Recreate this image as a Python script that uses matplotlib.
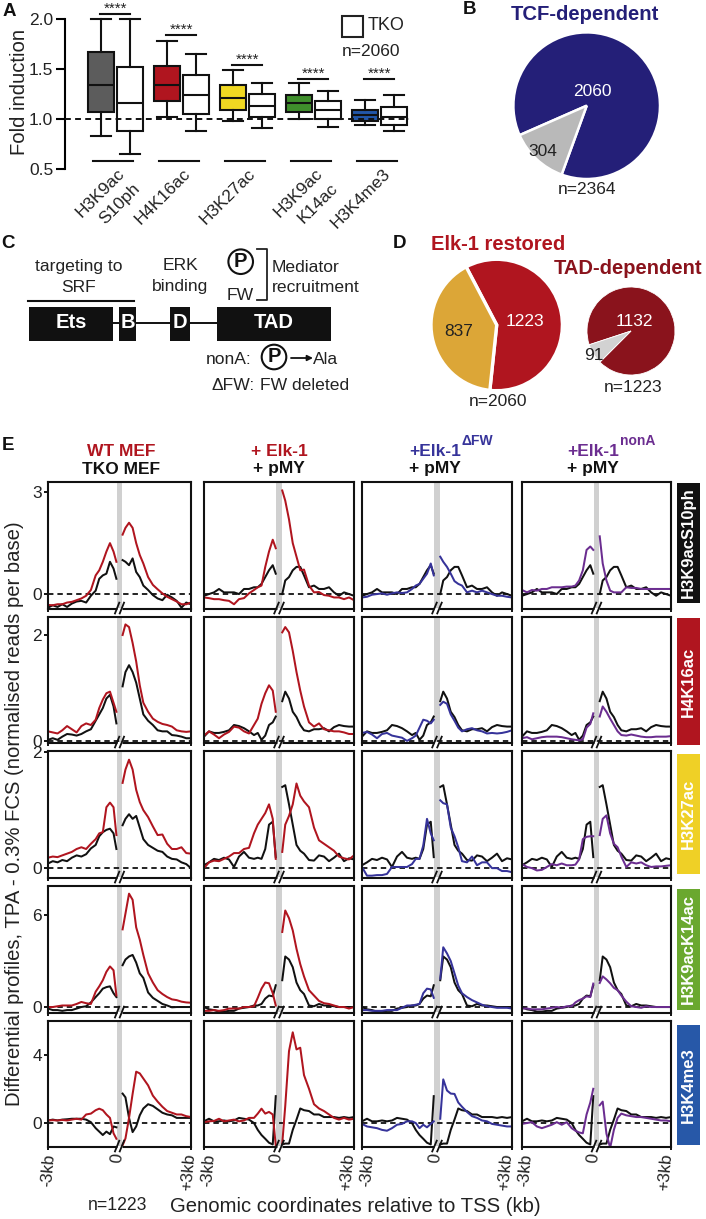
#!/usr/bin/env python
# coding: utf-8
import matplotlib
matplotlib.use('Agg')
import matplotlib.pyplot as plt
from matplotlib.patches import Rectangle, Circle

plt.rcParams['font.family'] = ['Liberation Sans', 'DejaVu Sans']

W, H = 706, 1219
TXT = '#222222'
RED = '#b0151f'
DARKRED = '#8a131c'
NAVY = '#241f78'
BLUE = '#36339a'
PURPLE = '#6b2d90'
GOLD = '#dca637'

# panel A
groups = ['H3K9ac S10ph', 'H4K16ac', 'H3K27ac', 'H3K9ac K14ac', 'H3K4me3']
box_colors = ['#5c5c5c', '#b0151f', '#f0d822', '#3f8f2c', '#2256a8']
# whislo, q1, med, q3, whishi
box_wt = [[0.83, 1.07, 1.34, 1.67, 2.0],
          [1.02, 1.18, 1.34, 1.53, 1.78],
          [0.98, 1.09, 1.21, 1.34, 1.49],
          [1.00, 1.07, 1.16, 1.24, 1.36],
          [0.945, 0.98, 1.04, 1.09, 1.19]]
box_tko = [[0.65, 0.88, 1.16, 1.525, 2.0],
           [0.88, 1.05, 1.24, 1.44, 1.65],
           [0.91, 1.02, 1.13, 1.25, 1.365],
           [0.92, 1.005, 1.09, 1.18, 1.28],
           [0.885, 0.945, 1.02, 1.12, 1.24]]
sig_y = [2.05, 1.84, 1.54, 1.40, 1.40]

# panels B and D
pie_b = [2060, 304]
pie_d1 = [1223, 837]
pie_d2 = [1132, 91]

# panel E, reads per base at X_LEFT + X_RIGHT
X_LEFT = [-3, -2.8, -2.6, -2.4, -2.2, -2, -1.8, -1.6, -1.4, -1.2, -1, -0.85, -0.7, -0.55, -0.4, -0.25, -0.13]
X_RIGHT = [0.13, 0.25, 0.4, 0.55, 0.7, 0.85, 1, 1.2, 1.4, 1.6, 1.8, 2, 2.2, 2.4, 2.6, 2.8, 3]

wt_s10 = [-.32, -.33, -.3, -.3, -.25, -.23, -.18, -.13, -.05, .12, .55, .7, .95, 1.25, 1.5, 1.25, .95,
          1.75, 1.95, 2.1, 1.95, 1.5, 1.15, .9, .5, .27, .14, .02, -.08, -.15, -.22, -.3, -.3, -.25]
tko_s10 = [-.4, -.33, -.38, -.3, -.38, -.28, -.22, -.2, -.25, -.05, .1, .45, .55, .6, .95, .75, .45,
           1.0, .95, .85, 1.05, .65, .5, .25, .12, -.03, -.13, -.18, -.02, -.1, -.2, -.4, -.25, -.3]
el_s10 = [-.1, -.12, -.15, -.15, -.18, -.2, -.3, -.15, -.12, .02, .12, .2, .25, .8, 1.25, 1.6, 1.35,
          3.05, 2.75, 2.2, 1.5, 1.1, .7, .72, .25, .05, .06, -.03, -.05, -.1, -.1, -.15, -.1, -.18]
pmy_s10 = [-.05, 0, .05, .15, .05, .05, .05, 0, .15, .15, .2, .2, .3, .5, .7, .85, .6,
           0, .4, .5, .7, .8, .8, .55, .2, .25, .15, .15, .2, .05, -.05, .05, 0, -.05]
df_s10 = [-.1, -.08, -.02, 0, .02, -.02, .02, .05, .03, .05, .15, .25, .3, .45, .6, .9, .55,
          1.1, .95, .8, .6, .38, .3, .25, .05, .1, .05, .1, .05, 0, -.05, -.05, -.08, -.1]
na_s10 = [.12, .05, .12, .1, .15, .15, .2, .2, .2, .22, .22, .25, .4, .7, 1.3, 1.4, 1.3,
          1.7, .9, .4, .1, .05, .05, .05, .2, .18, .18, .15, .15, .15, .15, .15, .15, .15]

wt_h4 = [.18, .16, .14, .2, .28, .22, .16, .28, .33, .3, .4, .62, .78, .9, .93, .72, .55,
         2.0, 2.2, 2.15, 1.85, 1.5, 1.05, .72, .55, .42, .36, .32, .3, .27, .2, .18, .17, .18]
tko_h4 = [.02, .05, .02, .08, .13, .12, .1, .13, .18, .22, .38, .5, .62, .8, .87, .65, .33,
          1.03, 1.3, 1.43, 1.3, 1.1, .8, .5, .38, .3, .2, .18, .18, .11, .1, .08, .05, .05]
el_h4 = [.1, .18, .12, .05, .12, .17, .27, .25, .18, .14, .3, .42, .7, .9, 1.05, .95, .55,
         2.05, 2.15, 2.05, 1.7, 1.3, .95, .65, .35, .27, .33, .22, .2, .18, .18, .16, .13, .13]
pmy_h4 = [.08, .18, .15, .15, .17, .2, .3, .28, .24, .18, .11, .15, .02, .1, .3, .35, .46,
          .75, .93, .8, .55, .45, .3, .2, .18, .22, .22, .24, .18, .26, .3, .28, .27, .27]
df_h4 = [.15, .17, .12, .05, .13, .15, .1, .08, .06, 0, .05, .1, .25, .4, .38, .33, .4,
         .68, .74, .7, .5, .38, .25, .18, .22, .24, .2, .18, .14, .15, .14, .15, .17, .2]
na_h4 = [.05, .07, .03, .05, .07, .08, .08, .08, .07, .05, .03, .02, .01, .03, .25, .32, .52,
         .46, .65, .55, .42, .3, .18, .11, .1, .12, .1, .08, .07, .07, .08, .08, .08, .09]

wt_k27 = [.18, .2, .19, .22, .25, .28, .33, .36, .33, .42, .5, .6, .62, 1.05, 1.13, 1.05, .57,
          1.47, 1.7, 1.87, 1.7, 1.35, 1.14, 1.0, .88, .72, .57, .58, .42, .33, .33, .36, .26, .25]
tko_k27 = [.08, .12, .1, .14, .12, .18, .22, .2, .24, .34, .4, .55, .62, .66, .68, .6, .33,
           .74, .85, .93, .85, .9, .7, .5, .4, .35, .3, .28, .2, .16, .15, .1, .07, 0]
el_k27 = [0, .1, .13, .12, .16, .2, .26, .26, .33, .35, .6, .75, .85, .95, 1.1, .85, .16,
          .28, .75, .9, 1.1, 1.46, 1.25, 1.15, 1.05, .7, .48, .42, .36, .3, .2, .17, .15, .22]
pmy_k27 = [.05, .1, .16, .14, .18, .15, .02, .2, .28, .18, .16, .18, .16, .33, .75, .8, .19,
           1.4, 1.43, 1.1, .75, .4, .3, .25, .14, .13, .22, .2, .12, .18, .25, .12, .17, .15]
df_k27 = [.02, -.13, -.13, -.12, -.12, -.1, .02, .02, .02, .02, .07, .16, .16, .39, .85, .6, .48,
          1.17, 1.12, 1.1, .7, .55, .36, .12, .1, .2, .05, .1, .1, 0, 0, -.05, -.05, -.07]
na_k27 = [.07, .02, 0, -.04, -.03, .02, .07, .05, .08, .05, .05, .06, .15, .5, .54, .55, .55,
          .57, .85, .91, .6, .42, .36, .2, .02, .1, .08, .1, .05, .02, .03, .03, .04, .05]

wt_k14 = [0, 0, .05, .1, .1, .1, .2, .33, .25, .2, 1.0, 1.35, 1.75, 2.3, 2.65, 2.4, .76,
          5.07, 6.1, 7.4, 7.0, 5.2, 4.4, 3.4, 2.2, 1.6, 1.1, .85, .65, .5, .45, .35, .3, .28]
tko_k14 = [-.1, -.2, -.2, -.25, -.2, -.2, -.1, 0, .05, .3, .65, .9, 1.2, 1.3, 1.35, .9, .65,
           2.73, 3.1, 3.3, 3.4, 2.9, 2.2, 1.9, .95, .6, .4, .2, .1, -.02, 0, 0, 0, 0]
el_k14 = [-.25, -.25, -.2, -.25, -.2, -.1, -.1, -.1, 0, 0, .05, .6, 1.2, 1.6, 1.55, .9, .1,
          4.9, 6.3, 5.8, 5, 3.8, 2.8, 2.0, 1.1, .75, .4, .25, .2, .1, 0, 0, -.1, 0]
pmy_k14 = [0, -.15, -.2, -.3, -.3, -.25, -.25, -.1, -.05, 0, .1, .1, .2, .55, .75, .7, 1.42,
           1.75, 3.3, 3.1, 2.6, 1.6, 1.1, .85, .1, .05, .2, .1, .1, .05, 0, 0, 0, 0]
df_k14 = [-.2, -.2, -.25, -.25, -.25, -.2, -.2, -.2, -.05, .1, .1, .15, .2, .9, 1.2, 1.15, .6,
          1.85, 3.9, 3.5, 3.0, 2.2, 1.4, .9, .65, .45, .3, .15, .05, 0, -.05, -.05, -.05, -.1]
na_k14 = [-.1, -.1, -.15, -.15, -.15, -.1, -.05, 0, -.05, .05, .05, .3, .45, .55, .7, .65, 1.53,
          1.57, 2.0, 1.8, 1.55, 1.25, 1.1, .75, .35, .05, 0, -.05, .05, 0, 0, 0, 0, 0]

wt_me3 = [.15, .17, .15, .18, .15, .2, .25, .2, .5, .55, .75, .84, .75, .5, .3, -.6, -.92,
          -1.3, -.9, .3, 1.7, 3, 2.9, 2.6, 2.2, 1.6, 1.25, .95, .7, .6, .5, .5, .4, .35]
tko_me3 = [.15, .2, .15, .2, .22, .25, .25, .25, .2, .05, -.3, -.5, -.7, -.5, -.65, -.2, -.25,
           1.72, 1.5, .3, -.53, -.2, .45, .85, 1.1, 1.0, .8, .6, .5, .45, .3, .3, .3, .3]
el_me3 = [.05, .1, .12, .25, .1, .15, .2, .1, .15, .3, .3, .55, .84, .55, .65, .5, -1.3,
          -1.2, 1.0, 4.2, 5.3, 4.3, 4.4, 2.8, 2.0, 1.1, .85, .7, .5, .3, .2, .3, .2, .25]
pmy_me3 = [.1, .25, .1, .1, .15, .1, .15, .3, .25, .2, 0, -.4, -.7, -.92, -1.15, -1.25, 1.57,
           -1.25, -1.2, -1.2, -.4, .2, .85, .75, .7, .5, .5, .35, .35, .35, .3, .35, .3, .35]
df_me3 = [-.05, -.2, -.25, -.3, -.4, -.45, -.3, -.1, -.05, .1, .1, 0, -.3, -.1, -.25, -.05, .1,
          .25, 2.55, 1.9, 1.72, 1.7, 1.2, .95, .65, .4, .3, .15, .1, -.05, -.1, -.15, -.2, -.2]
na_me3 = [-.05, 0, .05, -.2, -.3, -.2, -.1, .05, -.1, .05, -.3, -.45, -.55, -.6, .5, 1.2, 2.0,
          1.04, 1.25, -.62, -1.45, -.4, .3, .55, .45, .4, .35, .35, .3, .25, .2, .15, .15, .1]

marks = ['H3K9acS10ph', 'H4K16ac', 'H3K27ac', 'H3K9acK14ac', 'H3K4me3']
mark_colors = ['#111111', '#b0151f', '#efd026', '#6aa82f', '#2758a8']
row_ticks = [[0, 3], [0, 2], [0, 2], [0, 6], [0, 4]]
row_ylim = [(-0.44, 3.3), (-0.04, 2.34), (-0.17, 2.02), (-0.39, 7.9), (-1.4, 5.96)]
col1 = [(wt_s10, tko_s10), (wt_h4, tko_h4), (wt_k27, tko_k27), (wt_k14, tko_k14), (wt_me3, tko_me3)]
col2 = [(el_s10, pmy_s10), (el_h4, pmy_h4), (el_k27, pmy_k27), (el_k14, pmy_k14), (el_me3, pmy_me3)]
col3 = [(df_s10, pmy_s10), (df_h4, pmy_h4), (df_k27, pmy_k27), (df_k14, pmy_k14), (df_me3, pmy_me3)]
col4 = [(na_s10, pmy_s10), (na_h4, pmy_h4), (na_k27, pmy_k27), (na_k14, pmy_k14), (na_me3, pmy_me3)]
columns = [col1, col2, col3, col4]
col_colors = [RED, RED, BLUE, PURPLE]

col_x = [(48, 191), (204, 354), (362, 512), (522, 671)]
row_y = [(482, 609), (617, 743), (751, 878), (886, 1013), (1021, 1147)]
mark_y = [(483, 603), (618, 745), (754, 874), (889, 1010), (1025, 1145)]
# x of -3kb, 0, +3kb under each column
xtick_px = [(48, 117, 188), (208, 276, 347), (367, 435, 505), (525, 593, 665)]


def panel(x0, y0, x1, y1):
    return fig.add_axes([x0 / W, 1 - y1 / H, (x1 - x0) / W, (y1 - y0) / H])


fig = plt.figure(figsize=(W / 100, H / 100), dpi=100)

# overlay in pixel coordinates, for the text and the schematic
ov = fig.add_axes([0, 0, 1, 1], zorder=5)
ov.set_xlim(0, W)
ov.set_ylim(H, 0)
ov.axis('off')
ov.patch.set_alpha(0)


def t(x, y, s, size=11.5, color=TXT, weight='normal', ha='center', va='center', **kw):
    ov.text(x, y, s, fontsize=size, color=color, fontweight=weight, ha=ha, va=va, **kw)


for x, y, s in [(9, 11, 'A'), (470, 9, 'B'), (8, 243, 'C'), (400, 243, 'D'), (8, 446, 'E')]:
    t(x, y, s, size=13.5, color='#111111', weight='bold')

# A
axa = panel(65, 19, 409, 169)
lw = 1.5
centers = list(range(len(groups)))
for i in centers:
    for vals, off, fc in [(box_wt[i], -0.22, box_colors[i]), (box_tko[i], 0.22, 'white')]:
        stats = [dict(whislo=vals[0], q1=vals[1], med=vals[2], q3=vals[3], whishi=vals[4], fliers=[])]
        axa.bxp(stats, positions=[i + off], widths=0.39, capwidths=0.3, patch_artist=True,
                showfliers=False, manage_ticks=False,
                boxprops=dict(facecolor=fc, edgecolor='#111111', linewidth=lw),
                medianprops=dict(color='#111111', linewidth=lw),
                whiskerprops=dict(color='#111111', linewidth=lw, clip_on=False),
                capprops=dict(color='#111111', linewidth=lw, clip_on=False))
    axa.plot([i - 0.23, i + 0.23], [sig_y[i], sig_y[i]], color='#111111', lw=lw, clip_on=False)
    axa.text(i + 0.01, sig_y[i] + 0.055, '****', ha='center', va='center', fontsize=11, color=TXT, clip_on=False)
    axa.plot([i - 0.33, i + 0.27], [0.585, 0.585], color='#111111', lw=lw, clip_on=False)
axa.axhline(1.0, color='#111111', lw=1.4, dashes=(3, 2.2), zorder=5)
axa.set_xlim(-0.76, 4.45)
axa.set_ylim(0.5, 2.0)
axa.set_yticks([0.5, 1.0, 1.5, 2.0])
axa.set_yticklabels(['0.5', '1.0', '1.5', '2.0'], fontsize=12.5, color=TXT)
axa.set_xticks([])
axa.tick_params(axis='y', width=1.5, length=6.5, pad=2)
for sp in ['top', 'right', 'bottom']:
    axa.spines[sp].set_visible(False)
axa.spines['left'].set_linewidth(1.5)
axa.patch.set_alpha(0)

t(20, 92, 'Fold induction', size=14.6, rotation=90)
for x, y, s in [(117, 166, 'H3K9ac'), (132, 181, 'S10ph'), (183, 166, 'H4K16ac'), (248, 166, 'H3K27ac'),
                (315, 166, 'H3K9ac'), (330, 181, 'K14ac'), (383, 166, 'H3K4me3')]:
    t(x, y, s, size=12.5, ha='right', va='top', rotation=45, rotation_mode='anchor')
ov.add_patch(Rectangle((342, 16), 21, 21, fc='white', ec='#222222', lw=1.5))
t(368, 26, 'TKO', size=13, ha='left')
t(371, 51, 'n=2060', size=12.5)

# B
t(585, 15, 'TCF-dependent', size=14.6, color=NAVY, weight='bold')
axb = panel(513.4, 32.4, 660, 179)
axb.pie(pie_b, colors=[NAVY, '#b9b9b9'], startangle=250, radius=1,
        wedgeprops=dict(edgecolor='white', linewidth=1.8))
axb.set_xlim(-1, 1)
axb.set_ylim(-1, 1)
t(592, 91, '2060', size=12.5, color='white')
t(543, 151, '304', size=12.5)
t(587, 190, 'n=2364', size=12.5)

# C
t(79, 266, 'targeting to', size=12.6)
t(79, 287, 'SRF', size=12.6)
t(180, 266, 'ERK', size=12.6)
t(180, 287, 'binding', size=12.6)
t(240, 295, 'FW', size=12.6)
t(272, 267, 'Mediator', size=12.6, ha='left')
t(272, 288, 'recruitment', size=12.6, ha='left')
ov.plot([257, 267, 267, 257], [249, 249, 300, 300], color='#222222', lw=1.3)
ov.plot([28, 134], [300.7, 300.7], color='#111111', lw=1.5)
ov.plot([113, 217], [323, 323], color='#111111', lw=1.4)
for x0, x1, s in [(29, 113, 'Ets'), (119, 136, 'B'), (170, 190, 'D'), (217, 331, 'TAD')]:
    ov.add_patch(Rectangle((x0, 307), x1 - x0, 34, fc='#111111', ec='none', zorder=3))
    t((x0 + x1) / 2, 323, s, size=14.5, color='white', weight='bold', zorder=4)
for cx, cy in [(240.7, 261.7), (274, 357)]:
    ov.add_patch(Circle((cx, cy), 12.3, fc='white', ec='#111111', lw=1.5))
    t(cx, cy, 'P', size=14.5, color='#111111', weight='bold')
t(252, 359, 'nonA:', size=12.6, ha='right')
ov.annotate('', xy=(313, 358), xytext=(291, 358),
            arrowprops=dict(arrowstyle='-|>', color='#111111', lw=1.3, mutation_scale=8, shrinkA=0, shrinkB=0))
t(313, 359, 'Ala', size=12.6, ha='left')
t(212, 386, '\u0394FW:', size=12.6, ha='left')
t(260, 386, 'FW deleted', size=12.6, ha='left')

# D
t(498, 244, 'Elk-1 restored', size=14.5, color=RED, weight='bold')
t(628, 269, 'TAD-dependent', size=14.5, color=DARKRED, weight='bold')
axd = panel(431, 259.3, 562.4, 390.7)
axd.pie(pie_d1, colors=[RED, GOLD], startangle=264, radius=1,
        wedgeprops=dict(edgecolor='white', linewidth=2.4))
axd.set_xlim(-1, 1)
axd.set_ylim(-1, 1)
axd2 = panel(587, 287, 675, 375)
axd2.pie(pie_d2, colors=[DARKRED, '#d2d2d2'], startangle=225, radius=1,
         wedgeprops=dict(edgecolor='white', linewidth=0.6))
axd2.set_xlim(-1, 1)
axd2.set_ylim(-1, 1)
t(525, 322, '1223', size=12.5, color='white')
t(459, 332, '837', size=12.5)
t(498, 401, 'n=2060', size=12.5)
t(634, 321, '1132', size=12.5, color='white')
t(594, 356, '91', size=12.5)
t(633, 388, 'n=1223', size=12.5)

# E
t(121, 452, 'WT MEF', size=12.5, color=RED, weight='bold')
t(121, 469, 'TKO MEF', size=12.5, color='#111111', weight='bold')
t(279, 452, '+ Elk-1', size=12.5, color=RED, weight='bold')
t(279, 469, '+ pMY', size=12.5, color='#111111', weight='bold')
t(461, 452, '+Elk-1', size=12.5, color=BLUE, weight='bold', ha='right')
t(462, 441, '\u0394FW', size=10, color=BLUE, weight='bold', ha='left')
t(435, 469, '+ pMY', size=12.5, color='#111111', weight='bold')
t(619, 452, '+Elk-1', size=12.5, color=PURPLE, weight='bold', ha='right')
t(620, 441, 'nonA', size=10, color=PURPLE, weight='bold', ha='left')
t(593, 469, '+ pMY', size=12.5, color='#111111', weight='bold')

for c, (x0, x1) in enumerate(col_x):
    for r, (y0, y1) in enumerate(row_y):
        ax = panel(x0, y0, x1, y1)
        ax.axvspan(-0.12, 0.12, color='#d0d0d0', lw=0, zorder=0)
        ax.axhline(0, color='#111111', lw=1.3, dashes=(3, 2.2), zorder=1)
        sample, control = columns[c][r]
        for vals, colr in [(control, '#111111'), (sample, col_colors[c])]:
            ax.plot(X_LEFT, vals[:17], color=colr, lw=1.45, zorder=2)
            ax.plot(X_RIGHT, vals[17:], color=colr, lw=1.45, zorder=2)
        ax.set_xlim(-3, 3)
        ax.set_ylim(*row_ylim[r])
        ax.set_xticks([-3, 3])
        ax.set_xticklabels([])
        ax.tick_params(axis='x', length=2, width=1.3)
        if c == 0:
            ax.set_yticks(row_ticks[r])
            ax.set_yticklabels([str(v) for v in row_ticks[r]], fontsize=12.5, color=TXT)
            ax.tick_params(axis='y', length=3, width=1.3, pad=1.5)
        else:
            ax.set_yticks([])
        for sp in ax.spines.values():
            sp.set_linewidth(1.5)
            sp.set_color('#111111')
        # axis break on the bottom spine
        trans = ax.get_xaxis_transform()
        ax.plot([-0.1, 0.1], [0, 0], transform=trans, color='white', lw=2.2, clip_on=False, zorder=6,
                solid_capstyle='butt')
        for off in [-0.1, 0.1]:
            ax.plot([off - 0.09, off + 0.09], [-0.035, 0.05], transform=trans, color='#111111', lw=1.3,
                    clip_on=False, zorder=7)
    for s, x in zip(['-3kb', '0', '+3kb'], xtick_px[c]):
        t(x, 1153, s, size=12.2, ha='center', va='top', rotation=85)

for r, (y0, y1) in enumerate(mark_y):
    ov.add_patch(Rectangle((677, y0), 23, y1 - y0, fc=mark_colors[r], ec='none'))
    t(688.5, (y0 + y1) / 2, marks[r], size=12, color='white', weight='bold', rotation=90)

t(15, 814, 'Differential profiles, TPA - 0.3% FCS (normalised reads per base)', size=14.6, rotation=90)
t(117, 1206, 'n=1223', size=12.7)
t(355, 1206, 'Genomic coordinates relative to TSS (kb)', size=14.6)

fig.savefig('out.png', dpi=100)
